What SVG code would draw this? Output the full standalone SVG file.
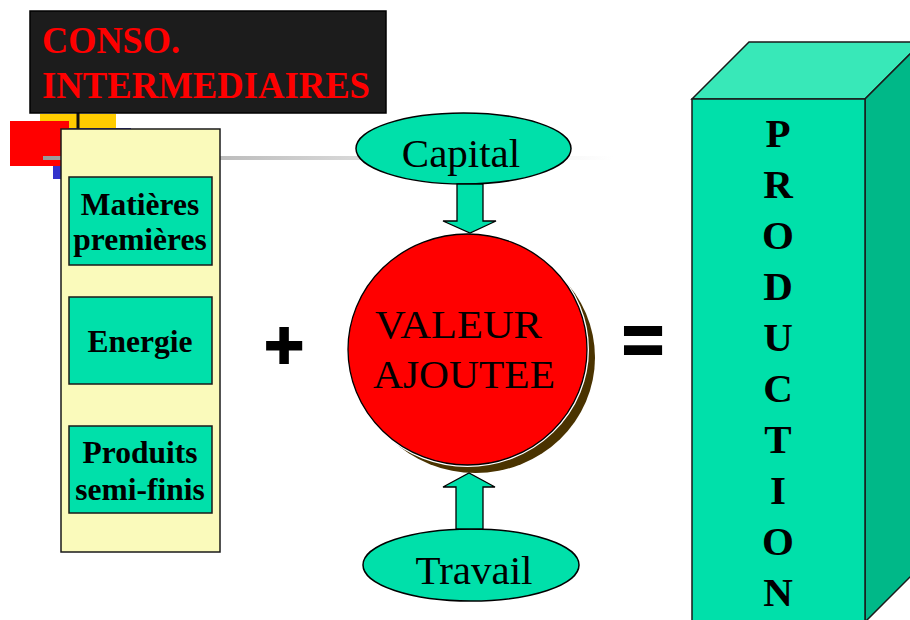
<svg xmlns="http://www.w3.org/2000/svg" width="910" height="620" viewBox="0 0 910 620">
<defs>
<linearGradient id="gline" x1="0" y1="0" x2="1" y2="0">
<stop offset="0" stop-color="#999999"/>
<stop offset="0.55" stop-color="#d8d8d8"/>
<stop offset="1" stop-color="#ffffff"/>
</linearGradient>
<style>
.serif{font-family:"Liberation Serif","Times New Roman",serif}
.bold{font-weight:bold}
.item{fill:#00e0aa;stroke:#1a1a1a;stroke-width:1.5}
.itemtxt{font-family:"Liberation Serif","Times New Roman",serif;font-weight:bold;font-size:31.5px;fill:#000;text-anchor:middle}
.oval{fill:#00e0aa;stroke:#000;stroke-width:1.5}
.ovaltxt{font-family:"Liberation Serif","Times New Roman",serif;font-size:41px;fill:#000;text-anchor:middle}
.arrow{fill:#00e0aa;stroke:#000;stroke-width:1.3;stroke-linejoin:miter}
.prod{font-family:"Liberation Serif","Times New Roman",serif;font-weight:bold;font-size:41px;fill:#000;text-anchor:middle}
.op{font-family:"Liberation Sans",Arial,sans-serif;font-weight:bold;fill:#000;stroke:#000;text-anchor:middle}
</style>
</defs>
<rect width="910" height="620" fill="#ffffff"/>

<g id="decor">
<rect x="40" y="114" width="76" height="50" fill="#ffcc00"/>
<rect x="53" y="128" width="78" height="51" fill="#3333cc"/>
<rect x="10" y="121" width="59" height="45" fill="#ff0000"/>
<rect x="76.5" y="113" width="3" height="18" fill="#111111"/>
<rect x="43" y="156" width="570" height="4" fill="url(#gline)"/>
</g>

<g id="conso-title">
<rect x="30" y="11" width="356" height="102" fill="#1c1c1c" stroke="#000" stroke-width="1.5"/>
<text class="serif bold" x="42" y="53" font-size="38" fill="#ff0000" textLength="138" lengthAdjust="spacingAndGlyphs">CONSO.</text>
<text class="serif bold" x="42" y="98" font-size="38" fill="#ff0000" textLength="328" lengthAdjust="spacingAndGlyphs">INTERMEDIAIRES</text>
</g>

<g id="conso-panel">
<rect x="61" y="129" width="159" height="423" fill="#fafabb" stroke="#1a1a1a" stroke-width="1.5"/>
</g>

<g id="matieres">
<rect class="item" x="69" y="177" width="143" height="88"/>
<text class="itemtxt" x="140" y="215">Matières</text>
<text class="itemtxt" x="140" y="250">premières</text>
</g>

<g id="energie">
<rect class="item" x="69" y="297" width="143" height="87"/>
<text class="itemtxt" x="140" y="352">Energie</text>
</g>

<g id="produits">
<rect class="item" x="69" y="426" width="143" height="87"/>
<text class="itemtxt" x="140" y="463">Produits</text>
<text class="itemtxt" x="140" y="500">semi-finis</text>
</g>

<g id="plus">
<text class="op" font-size="68" stroke-width="2" transform="translate(284,344.5)" x="0" y="23">+</text>
</g>

<g id="capital">
<ellipse class="oval" cx="463.5" cy="148.5" rx="107.5" ry="35.5"/>
<text class="ovaltxt" x="461" y="167">Capital</text>
</g>

<g id="valeur-ajoutee">
<ellipse cx="475.5" cy="357.5" rx="119.5" ry="115.5" fill="#4a3300"/>
<ellipse cx="467.5" cy="349.5" rx="119.5" ry="115.5" fill="#ff0000" stroke="#ffffff" stroke-width="4"/>
<ellipse cx="467.5" cy="349.5" rx="119.5" ry="115.5" fill="#ff0000" stroke="#000000" stroke-width="1.3"/>
<text class="serif" x="375" y="338" font-size="41" textLength="167" lengthAdjust="spacingAndGlyphs">VALEUR</text>
<text class="serif" x="373" y="388" font-size="41" textLength="182" lengthAdjust="spacingAndGlyphs">AJOUTEE</text>
</g>

<g id="travail">
<ellipse class="oval" cx="471" cy="565" rx="108" ry="36"/>
<text class="ovaltxt" x="474" y="584">Travail</text>
</g>

<g id="connectors">
<path class="arrow" d="M457,184 L483,184 L483,221 L496,221 L470,233 L443,221 L457,221 Z"/>
<path class="arrow" d="M456,529 L456,487 L443,487 L469,473 L495,487 L483,487 L483,529 Z"/>
</g>

<g id="equals">
<text class="op" font-size="72" stroke-width="2" x="643" y="364">=</text>
</g>

<g id="production">
<polygon points="692,99 749,42 922,42 865,99" fill="#38e8b8" stroke="#1a1a1a" stroke-width="1.5"/>
<polygon points="865,99 922,42 922,565 865,622" fill="#00b888" stroke="#1a1a1a" stroke-width="1.5"/>
<rect x="692" y="99" width="173" height="525" fill="#00e0aa" stroke="#1a1a1a" stroke-width="1.5"/>
<text class="prod" x="778" y="147">P</text>
<text class="prod" x="778" y="198">R</text>
<text class="prod" x="778" y="249">O</text>
<text class="prod" x="778" y="300">D</text>
<text class="prod" x="778" y="351">U</text>
<text class="prod" x="778" y="402">C</text>
<text class="prod" x="778" y="453">T</text>
<text class="prod" x="778" y="504">I</text>
<text class="prod" x="778" y="555">O</text>
<text class="prod" x="778" y="606">N</text>
</g>
</svg>
